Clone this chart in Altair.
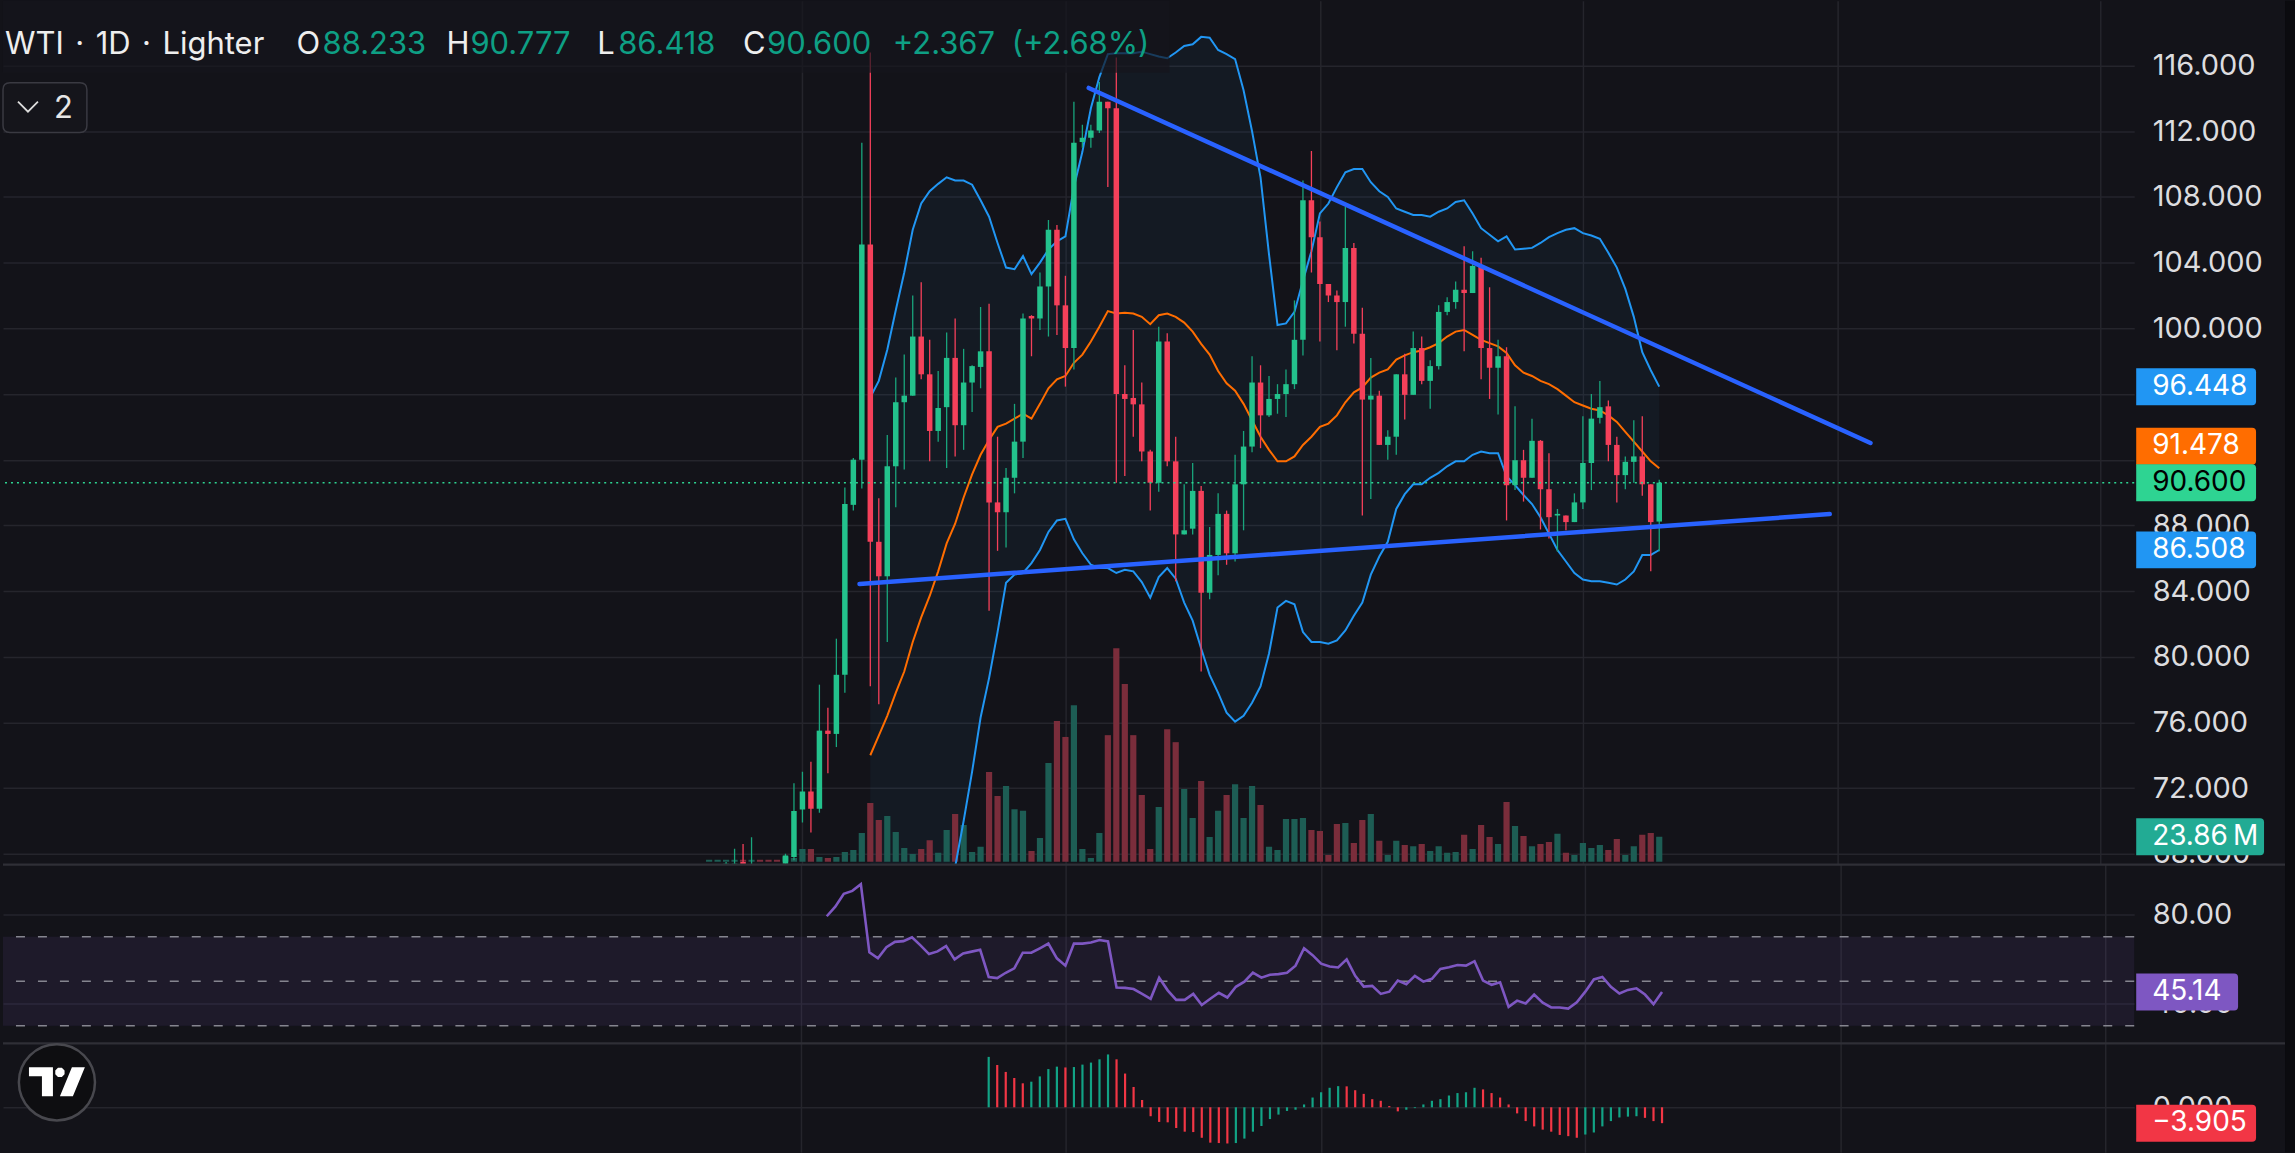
import altair as alt
import pandas as pd
import numpy as np

# ---------------- data (oldest -> newest, last candle at t = 0) ----------------
OPEN = [66.4, 66.5, 67.1, 67.2, 67.5, 67.1, 67.2, 67.0, 66.9, 67.4,
        67.8, 70.7, 71.8, 70.75, 75.5, 75.3, 78.9, 89.25, 92.0, 105.1,
        87.0, 84.9, 91.6, 95.5, 95.9, 99.5, 97.2, 93.75, 95.2, 98.2,
        94.1, 96.7, 97.65, 98.6, 89.4, 88.8, 90.9, 93.1, 100.75, 100.6,
        102.55, 106.0, 101.4, 98.8, 111.35, 111.6, 112.05, 113.8, 113.4, 96.0,
        95.76, 95.37, 92.5, 90.6, 99.2, 91.9, 87.45, 87.8, 90.1, 83.9,
        86.2, 88.7, 86.3, 90.5, 92.8, 96.7, 94.7, 95.7, 96.0, 96.6,
        99.3, 107.8, 105.55, 102.7, 102.0, 101.6, 104.9, 99.67, 95.66, 95.9,
        92.9, 93.4, 97.2, 95.95, 98.8, 96.8, 97.7, 101.0, 101.6, 102.35,
        102.15, 103.8, 98.8, 97.6, 98.3, 90.45, 91.97, 90.9, 93.15, 90.2,
        88.6, 88.6, 88.2, 89.4, 91.8, 94.55, 95.25, 92.9, 91.06, 91.87,
        92.2, 90.5, 88.233]
HIGH = [66.6, 66.7, 67.5, 68.3, 68.6, 69.0, 67.2, 67.1, 67.0, 68.0,
        72.3, 73.0, 73.6, 78.3, 76.9, 81.1, 90.3, 92.1, 111.3, 116.8,
        89.65, 93.5, 97.0, 98.4, 102.0, 102.8, 99.3, 97.4, 99.75, 100.6,
        98.75, 97.75, 101.3, 101.5, 93.4, 91.5, 95.4, 100.9, 100.8, 103.4,
        106.6, 106.3, 103.2, 113.8, 112.4, 112.4, 115.0, 113.8, 116.5, 97.75,
        99.9, 96.7, 92.6, 100.1, 99.7, 93.4, 90.5, 91.8, 90.4, 87.9,
        89.95, 88.9, 92.3, 93.75, 98.3, 97.75, 97.1, 96.6, 97.5, 101.7,
        109.0, 110.8, 106.5, 102.7, 102.3, 107.4, 105.2, 101.25, 98.2, 96.2,
        93.8, 97.2, 98.45, 99.8, 99.5, 98.05, 101.4, 101.9, 102.85, 105.0,
        104.7, 104.3, 102.5, 99.3, 98.85, 95.25, 92.6, 94.5, 93.2, 92.4,
        89.0, 88.6, 89.95, 94.65, 96.0, 96.8, 95.6, 93.4, 92.2, 94.4,
        94.65, 90.5, 90.777]
LOW = [66.2, 66.3, 66.9, 66.6, 66.6, 66.6, 66.8, 66.7, 66.6, 67.2,
       67.6, 69.9, 69.3, 70.5, 72.9, 74.5, 77.8, 88.9, 90.25, 78.2,
       77.1, 80.9, 89.1, 91.4, 95.9, 96.9, 91.9, 93.1, 91.5, 92.2,
       92.6, 94.9, 96.35, 82.8, 86.45, 86.65, 89.95, 92.1, 98.3, 99.9,
       99.5, 99.6, 96.45, 97.5, 111.0, 111.0, 111.9, 108.6, 90.6, 91.0,
       93.4, 91.9, 88.9, 90.05, 91.6, 84.6, 87.45, 87.45, 79.1, 83.5,
       84.97, 85.6, 85.8, 87.7, 92.45, 92.7, 94.6, 94.8, 94.6, 96.3,
       98.35, 103.4, 99.2, 101.6, 98.66, 100.1, 99.07, 88.6, 89.6, 92.9,
       92.0, 92.3, 94.45, 95.95, 96.6, 95.1, 97.5, 100.8, 101.2, 98.6,
       102.15, 96.9, 95.7, 94.75, 88.3, 90.15, 89.45, 90.9, 87.75, 87.2,
       86.4, 87.7, 88.2, 89.0, 90.15, 94.2, 91.9, 89.4, 90.2, 90.6,
       89.8, 85.2, 86.418]
CLOSE = [66.5, 66.6, 67.4, 67.4, 67.2, 67.3, 67.0, 66.9, 66.8, 67.9,
         70.6, 71.8, 70.75, 75.5, 75.3, 78.9, 89.3, 92.0, 105.1, 87.0,
         84.9, 91.6, 95.5, 95.9, 99.5, 97.2, 93.75, 95.15, 98.2, 94.1,
         96.7, 97.7, 98.6, 89.4, 88.8, 90.9, 93.1, 100.6, 100.6, 102.55,
         106.0, 101.4, 98.8, 111.3, 111.6, 112.05, 113.8, 113.4, 96.0, 95.7,
         95.37, 92.5, 90.6, 99.2, 91.9, 87.45, 87.7, 90.1, 83.9, 86.2,
         88.7, 86.3, 90.5, 92.8, 96.7, 94.7, 95.7, 96.0, 96.6, 99.3,
         107.8, 105.55, 102.7, 102.0, 101.6, 104.9, 99.67, 95.66, 95.9, 92.9,
         93.4, 97.2, 95.95, 98.8, 96.8, 97.7, 101.0, 101.6, 102.35, 102.15,
         103.8, 98.8, 97.6, 98.3, 90.45, 91.97, 90.9, 93.15, 90.2, 88.5,
         88.7, 88.2, 89.4, 91.8, 94.5, 95.2, 92.9, 91.06, 91.87, 92.2,
         90.5, 88.2, 90.6]
VOLUME_M = [1.9, 1.9, 1.9, 1.9, 1.9, 1.9, 1.9, 1.9, 1.9, 5.0,
            3.5, 12.1, 12.1, 4.4, 3.4, 4.4, 9.1, 11.1, 27.3, 55.9,
            39.7, 43.7, 28.3, 13.1, 7.4, 12.1, 20.5, 8.4, 30.3, 45.4,
            35.0, 9.1, 14.1, 85.5, 62.6, 72.3, 50.1, 48.5, 10.1, 22.5,
            94.2, 134.3, 119.1, 149.4, 12.1, 3.4, 27.3, 120.8, 203.9, 169.6,
            120.8, 63.6, 12.1, 52.2, 126.5, 114.1, 69.3, 41.7, 77.1, 23.6,
            48.5, 63.6, 74.0, 41.7, 72.3, 54.2, 14.1, 11.1, 40.7, 40.7,
            41.7, 30.3, 29.3, 6.4, 36.0, 37.0, 17.8, 39.7, 45.4, 19.9,
            6.4, 19.9, 15.8, 14.8, 16.8, 10.1, 14.8, 8.4, 9.1, 25.6,
            12.1, 35.0, 23.6, 16.8, 56.9, 34.0, 24.6, 14.8, 16.8, 18.8,
            26.6, 8.4, 6.4, 17.8, 13.1, 15.8, 11.1, 21.5, 6.4, 14.8,
            25.6, 27.3, 23.86]

# Bollinger bands, from 93 candles before the last one
BB_UPPER = [95.8, 96.8, 98.7, 101.1, 103.4, 106.0, 107.6, 108.35, 108.8, 109.2,
            109.0, 109.0, 108.75, 107.8, 106.8, 105.2, 103.7, 103.6, 104.4, 103.3,
            104.0, 104.8, 105.3, 105.6, 108.6, 110.75, 113.4, 115.3, 116.7, 116.75,
            116.75, 116.75, 116.85, 116.7, 116.55, 116.45, 116.8, 117.2, 117.3, 117.75,
            117.7, 116.95, 116.7, 116.4, 114.5, 112.0, 109.2, 104.5, 100.2, 100.3,
            101.0, 102.9, 104.7, 107.0, 107.6, 108.6, 109.5, 109.7, 109.7, 108.9,
            108.35, 108.0, 107.3, 107.1, 106.9, 106.9, 106.8, 107.1, 107.3, 107.7,
            107.8, 107.0, 106.1, 105.7, 105.3, 105.6, 104.8, 104.85, 104.9, 105.2,
            105.55, 105.8, 106.0, 106.1, 105.8, 105.65, 105.45, 104.6, 103.7, 102.4,
            100.7, 98.55, 97.45, 96.45]
BB_MID = [74.0, 75.2, 76.4, 77.8, 79.1, 80.9, 82.4, 83.7, 85.2, 86.9,
          88.1, 89.7, 91.1, 92.3, 93.2, 94.0, 94.2, 94.5, 94.8, 94.5,
          95.4, 96.35, 96.9, 97.1, 97.9, 98.4, 99.2, 100.1, 101.05, 100.9,
          100.95, 100.9, 100.7, 100.25, 100.8, 100.9, 100.7, 100.35, 99.8, 99.05,
          98.4, 97.4, 96.65, 96.2, 95.4, 94.4, 93.4, 92.6, 91.9, 91.9,
          92.2, 92.9, 93.4, 94.0, 94.2, 94.7, 95.5, 96.1, 96.4, 97.0,
          97.3, 97.5, 98.1, 98.35, 98.55, 98.65, 98.85, 99.1, 99.5, 99.8,
          99.9, 99.6, 99.3, 99.1, 98.9, 98.5, 97.75, 97.3, 97.1, 96.8,
          96.6, 96.3, 95.9, 95.5, 95.3, 95.1, 95.0, 94.7, 94.3, 93.7,
          93.1, 92.5, 91.9, 91.48]
BB_LOWER = [52.3, 53.7, 54.2, 54.3, 54.8, 55.8, 57.2, 59.1, 61.6, 64.6,
            67.2, 70.0, 73.0, 76.3, 78.7, 81.5, 84.5, 85.0, 85.1, 85.7,
            86.5, 87.6, 88.3, 88.4, 87.15, 86.3, 85.6, 85.4, 85.4, 85.1,
            85.3, 85.2, 84.55, 83.6, 84.85, 85.4, 84.75, 83.3, 82.2, 80.5,
            78.9, 77.8, 76.6, 76.05, 76.4, 77.2, 78.2, 80.2, 83.0, 83.4,
            83.2, 81.5, 80.9, 80.9, 80.8, 81.0, 81.6, 82.5, 83.3, 85.0,
            86.1, 87.0, 89.0, 89.9, 90.5, 90.5, 90.9, 91.2, 91.6, 91.9,
            91.9, 92.3, 92.5, 92.4, 92.4, 91.0, 90.45, 89.85, 89.3, 88.5,
            87.5, 86.5, 85.8, 85.1, 84.7, 84.6, 84.6, 84.5, 84.4, 84.7,
            85.2, 86.2, 86.2, 86.5]

RSI = [79.2, 83.5, 89.3, 90.6, 93.6, 63.0, 60.3, 65.3, 67.7, 68.0,
       69.7, 66.1, 62.2, 63.4, 65.8, 59.8, 62.5, 63.3, 64.1, 51.9,
       51.4, 53.8, 55.8, 62.8, 62.8, 64.8, 66.9, 60.3, 57.0, 66.9,
       66.9, 67.4, 68.5, 67.9, 47.2, 47.0, 46.5, 44.3, 42.1, 51.6,
       45.9, 41.6, 41.6, 44.3, 39.3, 42.1, 44.8, 42.7, 47.5, 49.8,
       53.9, 51.6, 52.9, 53.2, 53.8, 57.0, 64.8, 61.7, 57.9, 56.6,
       56.2, 59.8, 52.4, 47.6, 47.9, 44.3, 45.3, 50.3, 48.7, 52.4,
       49.8, 51.1, 55.5, 56.3, 57.3, 57.0, 59.0, 50.3, 48.4, 49.5,
       38.5, 41.3, 40.0, 44.0, 40.4, 38.2, 38.2, 37.7, 40.5, 45.3,
       50.8, 51.9, 47.5, 44.5, 46.1, 46.8, 44.0, 39.7, 45.14]

MACD_HIST = [12.4, 10.4, 8.7, 7.2, 5.9, 6.3, 7.6, 9.4, 10.0, 9.8,
             9.9, 10.5, 11.0, 11.8, 13.0, 11.8, 8.3, 5.0, 1.8, -2.2,
             -3.6, -3.7, -5.1, -6.0, -6.1, -7.5, -8.7, -8.8, -8.9, -8.8,
             -7.7, -6.0, -4.6, -2.9, -1.8, -0.9, -0.6, 0.7, 2.4, 3.7,
             4.8, 5.2, 5.15, 4.2, 3.3, 2.0, 1.6, 0.3, -1.0, -0.6,
             -0.2, 0.7, 1.6, 2.0, 2.9, 3.5, 3.7, 4.8, 4.4, 3.5,
             2.4, 0.7, -1.5, -3.4, -4.7, -5.5, -6.0, -6.8, -7.1, -7.5,
             -6.7, -6.2, -4.7, -3.4, -2.5, -2.3, -2.2, -2.6, -3.4, -3.905]

# trend lines drawn on the chart (candle index, price)
TREND_T = [-67.25, 24.9, -94.27, 20.1]
TREND_P = [114.64, 93.02, 84.43, 88.69]
TREND_ID = ["upper", "upper", "lower", "lower"]

# price-scale labels
PRICE_LABEL_TXT = ["96.448", "91.478", "90.600", "86.508"]
PRICE_LABEL_POS = [96.448, 92.82, 90.6, 86.508]
PRICE_LABEL_FILL = ["#2196F3", "#FF6D00", "#2ED492", "#2196F3"]
PRICE_LABEL_TEXT_COLOR = ["#ffffff", "#ffffff", "#000000", "#ffffff"]
PRICE_TICKS = [68, 72, 76, 80, 84, 88, 92, 96, 100, 104, 108, 112, 116]
HIDDEN_TICK_LABELS = [92, 96]   # covered by the price labels in the reference
LAST_CLOSE = 90.6
LAST_VOLUME_TXT = "23.86\u2009M"
LAST_VOLUME = 23.86
LAST_RSI = 45.14
LAST_MACD = -3.905
MONTH_GRID_T = [-101, -70, -40, -9, 21, 52]

# ---------------- styles ----------------
BG = "#131319"
GRID = "#25252c"
SEP = "#2f2f36"
AXTXT = "#dcdcdf"
WHITE = "#eeeeee"
TEAL = "#0e9f84"
UP_BODY = "#23c28c"
UP_WICK = "#19a57c"
DOWN = "#f5405a"
VOL_UP = "#1d5d54"
VOL_DN = "#7a2d3b"
FONT = "Inter"

W = 2134
H_PRICE, H_RSI, H_MACD = 865, 179, 109

XS = alt.Scale(domain=[-194.65, 55.4], nice=False, zero=False)
PS = alt.Scale(domain=[67.34, 119.95], nice=False, zero=False)
VS = alt.Scale(domain=[-2.86, 822.3], nice=False, zero=False)
RS = alt.Scale(domain=[22.06, 102.4], nice=False, zero=False)
MS = alt.Scale(domain=[-11.06, 15.72], nice=False, zero=False)

XAX = alt.Axis(values=MONTH_GRID_T, labels=False, ticks=False, domain=False,
               grid=True, gridColor=GRID, gridWidth=1.5, title=None)


def yaxis(values, fmt, hidden=None):
    kw = {}
    if hidden:
        kw["labelExpr"] = (f"indexof({list(hidden)}, datum.value) >= 0 ? '' : "
                           f"format(datum.value, '{fmt}')")
    return alt.Axis(orient="right", values=values, format=fmt, labelColor=AXTXT,
                    labelFont=FONT, labelFontSize=29, labelPadding=18, labelAlign="left",
                    labelBaseline="middle", ticks=False, domain=False, grid=True,
                    gridColor=GRID, gridWidth=1.5, title=None, labelOverlap=False, **kw)


PAX = yaxis(PRICE_TICKS, ".3f", HIDDEN_TICK_LABELS)
RAX = yaxis([40, 80], ".2f")
MAX = yaxis([0], ".3f")


def box_path(w, h, r=4.0, all_round=False):
    s = w / 2.0
    hh = (h / 2.0) / s
    rr = r / s
    if all_round:
        return (f"M{-1+rr:.4f},{-hh:.4f}L{1-rr:.4f},{-hh:.4f}Q1,{-hh:.4f} 1,{-hh+rr:.4f}"
                f"L1,{hh-rr:.4f}Q1,{hh:.4f} {1-rr:.4f},{hh:.4f}L{-1+rr:.4f},{hh:.4f}"
                f"Q-1,{hh:.4f} -1,{hh-rr:.4f}L-1,{-hh+rr:.4f}Q-1,{-hh:.4f} {-1+rr:.4f},{-hh:.4f}Z")
    return (f"M-1,{-hh:.4f}L{1-rr:.4f},{-hh:.4f}Q1,{-hh:.4f} 1,{-hh+rr:.4f}"
            f"L1,{hh-rr:.4f}Q1,{hh:.4f} {1-rr:.4f},{hh:.4f}L-1,{hh:.4f}Z")


def X():
    return alt.X("t:Q", scale=XS, axis=XAX)


def PY(field=None, datum=None):
    if datum is not None:
        return alt.Y(datum=datum, scale=PS, axis=PAX)
    return alt.Y(field, scale=PS, axis=PAX)


def RY(field=None, datum=None):
    if datum is not None:
        return alt.Y(datum=datum, scale=RS, axis=RAX)
    return alt.Y(field, scale=RS, axis=RAX)


def MY(field=None, datum=None):
    if datum is not None:
        return alt.Y(datum=datum, scale=MS, axis=MAX)
    return alt.Y(field, scale=MS, axis=MAX)


ONE = pd.DataFrame({"a": [0]})

# ---------------- frames ----------------
N = len(OPEN)
cdf = pd.DataFrame({"t": list(range(-(N - 1), 1)), "open": OPEN, "high": HIGH,
                    "low": LOW, "close": CLOSE, "vol": VOLUME_M})
up = cdf["close"] >= cdf["open"]
cdf["bc"] = np.where(up, UP_BODY, DOWN)
cdf["wc"] = np.where(up, UP_WICK, DOWN)
cdf["vc"] = np.where(up, VOL_UP, VOL_DN)

nb = len(BB_MID)
bbdf = pd.DataFrame({"t": list(range(-(nb - 1), 1)), "upper": BB_UPPER,
                     "mid": BB_MID, "lower": BB_LOWER})
nr = len(RSI)
rdf = pd.DataFrame({"t": list(range(-(nr - 1), 1)), "rsi": RSI})
nm = len(MACD_HIST)
mdf = pd.DataFrame({"t": list(range(-(nm - 1), 1)), "m": MACD_HIST})
prev = mdf["m"].shift(1)
mdf["c"] = np.where(prev.isna() | (mdf["m"] >= prev), "#12a385", "#f23645")
tdf = pd.DataFrame({"t": TREND_T, "p": TREND_P, "id": TREND_ID})
pl = pd.DataFrame({"v": PRICE_LABEL_POS, "txt": PRICE_LABEL_TXT,
                   "fill": PRICE_LABEL_FILL, "tc": PRICE_LABEL_TEXT_COLOR})

# ---------------- price pane ----------------
bbfill = alt.Chart(bbdf).mark_area(color="#2196F3", opacity=0.05, clip=True).encode(
    x=X(), y=alt.Y("lower:Q", scale=PS, axis=None), y2="upper:Q")

vol = alt.Chart(cdf).mark_bar(size=6.2, clip=True).encode(
    x=X(), y=alt.Y("vol:Q", scale=VS, axis=None), y2=alt.Y2(datum=0),
    color=alt.Color("vc:N", scale=None))
vlab = pd.DataFrame({"v": [LAST_VOLUME], "txt": [LAST_VOLUME_TXT]})
vbox = alt.Chart(vlab).mark_point(shape=box_path(128, 37), size=128 ** 2, filled=True,
                                  color="#22AB94", opacity=1, strokeWidth=0).encode(
    x=alt.value(2200), y=alt.Y("v:Q", scale=VS, axis=None))
vtxt = alt.Chart(vlab).mark_text(align="left", baseline="middle", font=FONT, fontSize=28,
                                 color="#ffffff").encode(
    x=alt.value(2152), y=alt.Y("v:Q", scale=VS, axis=None), text="txt:N")
volume_group = alt.layer(vol, vbox, vtxt)

bb_up = alt.Chart(bbdf).mark_line(color="#2196F3", strokeWidth=2, clip=True).encode(
    x=X(), y=PY("upper:Q"))
bb_lo = alt.Chart(bbdf).mark_line(color="#2196F3", strokeWidth=2, clip=True).encode(
    x=X(), y=PY("lower:Q"))
bb_mid = alt.Chart(bbdf).mark_line(color="#FF6D00", strokeWidth=2, clip=True).encode(
    x=X(), y=PY("mid:Q"))
wicks = alt.Chart(cdf).mark_rule(strokeWidth=1.3, clip=True).encode(
    x=X(), y=PY("low:Q"), y2="high:Q", color=alt.Color("wc:N", scale=None))
bodies = alt.Chart(cdf).mark_bar(size=5.5, clip=True).encode(
    x=X(), y=PY("open:Q"), y2="close:Q", color=alt.Color("bc:N", scale=None))
trend = alt.Chart(tdf).mark_line(color="#2962FF", strokeWidth=4.5, strokeCap="round").encode(
    x=X(), y=PY("p:Q"), detail="id:N")
last_line = alt.Chart(ONE).mark_rule(color="#2ED492", strokeDash=[2, 4], strokeWidth=1.6).encode(
    y=PY(datum=LAST_CLOSE))

hdr_box = alt.Chart(ONE).mark_rect(color="#16161c", opacity=0.7).encode(
    x=alt.value(0), x2=alt.value(1168), y=alt.value(0), y2=alt.value(72))
HEADER = [("WTI\u200a \u00b7 \u200a1D\u200a \u00b7 \u200aLighter", WHITE, 2), ("O", WHITE, 294),
          ("88.233", TEAL, 320), ("H", WHITE, 444), ("90.777", TEAL, 468), ("L", WHITE, 595),
          ("86.418", TEAL, 616), ("C", WHITE, 741), ("90.600", TEAL, 765),
          ("+2.367", TEAL, 891), ("(+2.68%)", TEAL, 1010)]
hdr_layers = [alt.Chart(ONE).mark_text(text=txt, color=col, font=FONT, fontSize=31,
                                       align="left", baseline="alphabetic").encode(
    x=alt.value(px), y=alt.value(53)) for txt, col, px in HEADER]

btn = alt.Chart(ONE).mark_point(shape=box_path(84, 50, 7, all_round=True), size=84 ** 2,
                                filled=True, fill="#15151b", stroke="#3a3a42",
                                strokeWidth=1.5, opacity=1).encode(
    x=alt.value(42), y=alt.value(107))
chev = alt.Chart(ONE).mark_point(shape="M-1,-0.5L0,0.5L1,-0.5", size=20 ** 2, filled=False,
                                 color="#dddddd", strokeWidth=1.8, opacity=1).encode(
    x=alt.value(25), y=alt.value(106))
btn_txt = alt.Chart(ONE).mark_text(text="2", color="#e6e6e6", font=FONT, fontSize=31,
                                   align="left", baseline="middle").encode(
    x=alt.value(51), y=alt.value(108))

pbox = alt.Chart(pl).mark_point(shape=box_path(120, 37), size=120 ** 2, filled=True,
                                opacity=1, strokeWidth=0).encode(
    x=alt.value(2196), y=PY("v:Q"), color=alt.Color("fill:N", scale=None))
ptxt = alt.Chart(pl).mark_text(align="left", baseline="middle", font=FONT, fontSize=28).encode(
    x=alt.value(2152), y=PY("v:Q"), text="txt:N", color=alt.Color("tc:N", scale=None))
strip = alt.Chart(ONE).mark_rect(color="#0b0b0f").encode(
    x=alt.value(2285), x2=alt.value(2295), y=alt.value(0), y2=alt.value(1153))

rest = alt.layer(bb_up, bb_lo, bb_mid, wicks, bodies, trend, last_line, hdr_box,
                 *hdr_layers, btn, chev, btn_txt, pbox, ptxt, strip)

price = alt.layer(bbfill, volume_group, rest).resolve_scale(y="independent").properties(
    width=W, height=H_PRICE)

# ---------------- RSI pane ----------------
band = alt.Chart(ONE).mark_rect(color="#7E57C2", opacity=0.1).encode(
    x=alt.value(0), x2=alt.value(W), y=RY(datum=70), y2=alt.Y2(datum=30))
dashes = [alt.Chart(ONE).mark_rule(color="#85858f", strokeDash=[9, 13], strokeWidth=1.6).encode(
    y=RY(datum=v)) for v in (70, 50, 30)]
rsi_line = alt.Chart(rdf).mark_line(color="#7E57C2", strokeWidth=2.6).encode(
    x=X(), y=RY("rsi:Q"))
rlab = pd.DataFrame({"v": [LAST_RSI], "txt": [f"{LAST_RSI:.2f}"]})
rbox = alt.Chart(rlab).mark_point(shape=box_path(102, 37), size=102 ** 2, filled=True,
                                  color="#7E57C2", opacity=1, strokeWidth=0).encode(
    x=alt.value(2187), y=RY("v:Q"))
rtxt = alt.Chart(rlab).mark_text(align="left", baseline="middle", font=FONT, fontSize=28,
                                 color="#ffffff").encode(
    x=alt.value(2152), y=RY("v:Q"), text="txt:N")
sep1 = alt.Chart(ONE).mark_rule(color=SEP, strokeWidth=2.2).encode(
    x=alt.value(0), x2=alt.value(2285), y=alt.value(0))
rsi = alt.layer(band, *dashes, rsi_line, rbox, rtxt, sep1).properties(width=W, height=H_RSI)

# ---------------- MACD pane ----------------
bars = alt.Chart(mdf).mark_rule(strokeWidth=2.2).encode(
    x=X(), y=MY("m:Q"), y2=alt.Y2(datum=0), color=alt.Color("c:N", scale=None))
mlab = pd.DataFrame({"v": [LAST_MACD], "txt": ["\u2212" + f"{abs(LAST_MACD):.3f}"]})
mbox = alt.Chart(mlab).mark_point(shape=box_path(120, 37), size=120 ** 2, filled=True,
                                  color="#F23645", opacity=1, strokeWidth=0).encode(
    x=alt.value(2196), y=MY("v:Q"))
mtxt = alt.Chart(mlab).mark_text(align="left", baseline="middle", font=FONT, fontSize=28,
                                 color="#ffffff").encode(
    x=alt.value(2152), y=MY("v:Q"), text="txt:N")
sep2 = alt.Chart(ONE).mark_rule(color=SEP, strokeWidth=2.2).encode(
    x=alt.value(0), x2=alt.value(2285), y=alt.value(0))
logo_bg = alt.Chart(ONE).mark_point(shape="circle", size=5809, filled=True, fill="#0e0e11",
                                    stroke="#48484e", strokeWidth=2.5, opacity=1).encode(
    x=alt.value(54), y=alt.value(39))
LOGO = ("M-1,-0.536L-0.143,-0.536L-0.143,0.5L-0.536,0.5L-0.536,-0.214L-1,-0.214Z"
        "M0.273,-0.288L0.176,-0.191L0.038,-0.191L-0.059,-0.288L-0.059,-0.426L0.038,-0.523"
        "L0.176,-0.523L0.273,-0.426Z"
        "M0.536,-0.536L1,-0.536L0.571,0.5L0.107,0.5Z")
logo = alt.Chart(ONE).mark_point(shape=LOGO, size=56 ** 2, filled=True, color="#ffffff",
                                 opacity=1, strokeWidth=0).encode(
    x=alt.value(54), y=alt.value(39))
macd = alt.layer(bars, mbox, mtxt, sep2, logo_bg, logo).properties(width=W, height=H_MACD)

chart = alt.vconcat(price, rsi, macd, spacing=0, bounds="flush").properties(
    padding=0, background=BG).configure_view(stroke=None)

chart.save("out.html", embed_options={"renderer": "svg", "actions": False})
